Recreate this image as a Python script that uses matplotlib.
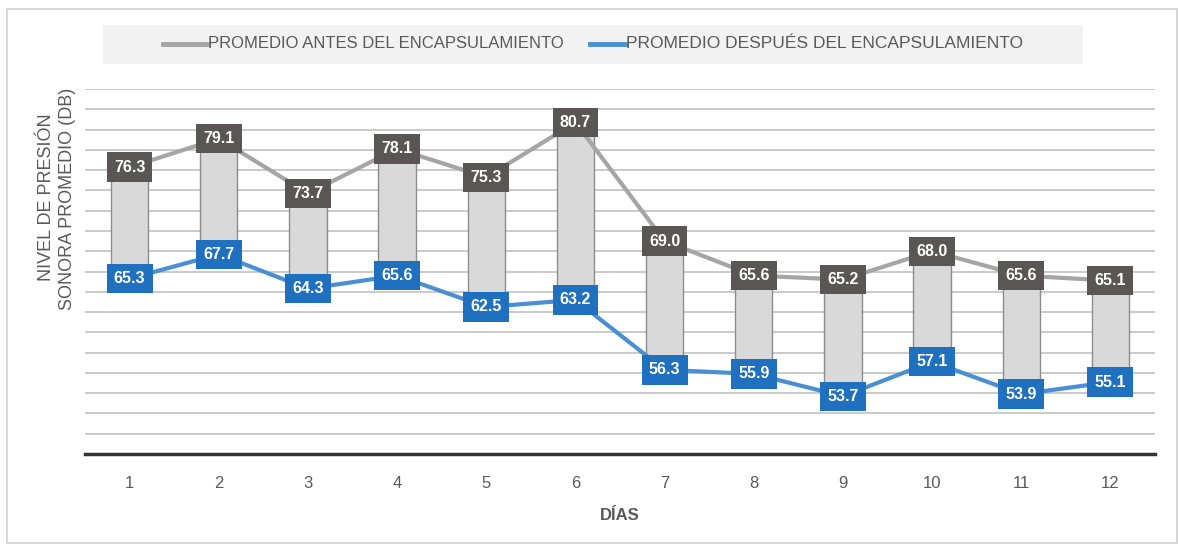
import matplotlib
matplotlib.use("Agg")
import matplotlib.pyplot as plt
from matplotlib.patches import Rectangle
from matplotlib.lines import Line2D
import numpy as np

days = ["1", "2", "3", "4", "5", "6", "7", "8", "9", "10", "11", "12"]
antes = [76.3, 79.1, 73.7, 78.1, 75.3, 80.7, 69.0, 65.6, 65.2, 68.0, 65.6, 65.1]
despues = [65.3, 67.7, 64.3, 65.6, 62.5, 63.2, 56.3, 55.9, 53.7, 57.1, 53.9, 55.1]
legend_labels = ["PROMEDIO ANTES DEL ENCAPSULAMIENTO", "PROMEDIO DESPUÉS DEL ENCAPSULAMIENTO"]

FONT = ["Liberation Sans Narrow", "Liberation Sans", "DejaVu Sans"]
plt.rcParams["font.family"] = FONT

C_GRAY_LINE = "#a5a5a5"
C_GRAY_BOX = "#5a5656"
C_BLUE_LINE = "#4a8fd2"
C_BLUE_BOX = "#2070c0"
C_TEXT = "#595959"

fig = plt.figure(figsize=(11.79, 5.47), dpi=100)
ax = fig.add_axes([85/1179, 1-454/547, (1155-85)/1179, (454-89)/547])

x = np.arange(len(days))
ax.set_xlim(-0.5, len(days) - 0.5)
ax.set_ylim(48, 84)

# gridlines
for yv in np.arange(50, 84.1, 2):
    ax.axhline(yv, color="#c6c6c6", lw=1.3, zorder=0)

# floating bars (high-low)
lo = np.array(despues)
hi = np.array(antes)
ax.bar(x, hi - lo, bottom=lo, width=0.42, color="#d9d9d9", edgecolor="#8c8c8c", lw=1.0, zorder=1)

ax.plot(x, antes, color=C_GRAY_LINE, lw=3, zorder=2, solid_capstyle="round")
ax.plot(x, despues, color=C_BLUE_LINE, lw=3, zorder=2, solid_capstyle="round")

for xi, v in zip(x, antes):
    ax.text(xi, v, f"{v:.1f}", ha="center", va="center", color="white", fontsize=11.5,
            fontweight="bold", zorder=4,
            bbox=dict(boxstyle="square,pad=0.45", fc=C_GRAY_BOX, ec="none"))
for xi, v in zip(x, despues):
    ax.text(xi, v, f"{v:.1f}", ha="center", va="center", color="white", fontsize=11.5,
            fontweight="bold", zorder=4,
            bbox=dict(boxstyle="square,pad=0.45", fc=C_BLUE_BOX, ec="none"))

for s in ["top", "right", "left"]:
    ax.spines[s].set_visible(False)
ax.spines["bottom"].set_color("#333333")
ax.spines["bottom"].set_linewidth(2.5)
ax.set_yticks([])
ax.set_xticks(x)
ax.set_xticklabels(days, color=C_TEXT, fontsize=12)
ax.tick_params(axis="x", length=0, pad=16)
ax.set_xlabel("DÍAS", color=C_TEXT, fontsize=12, fontweight="bold", labelpad=12)

# y label
fig.text(47/1179, 1-197/547, "NIVEL DE PRESIÓN", rotation=90, ha="center", va="center",
         color=C_TEXT, fontsize=13)
fig.text(67/1179, 1-199/547, "SONORA PROMEDIO (DB)", rotation=90, ha="center", va="center",
         color=C_TEXT, fontsize=13)

# legend background
fig.patches.append(Rectangle((103/1179, 1-64/547), (1083-103)/1179, (64-25)/547,
                             transform=fig.transFigure, fc="#f2f2f2", ec="none", zorder=0))
ly = 1-44/547
fig.lines.append(Line2D([163/1179, 207/1179], [ly, ly], transform=fig.transFigure,
                        color=C_GRAY_LINE, lw=3.5))
fig.text(208/1179, ly, legend_labels[0], ha="left", va="center", color=C_TEXT, fontsize=12)
fig.lines.append(Line2D([590/1179, 625/1179], [ly, ly], transform=fig.transFigure,
                        color=C_BLUE_LINE, lw=3.5))
fig.text(626/1179, ly, legend_labels[1], ha="left", va="center", color=C_TEXT, fontsize=12.5)

# chart border
fig.patches.append(Rectangle((7/1179, 1-543/547), (1177-7)/1179, (543-9)/547,
                             transform=fig.transFigure, fc="none", ec="#d0d0d0", lw=1.2))

fig.savefig("out.png", dpi=100, facecolor="white")
